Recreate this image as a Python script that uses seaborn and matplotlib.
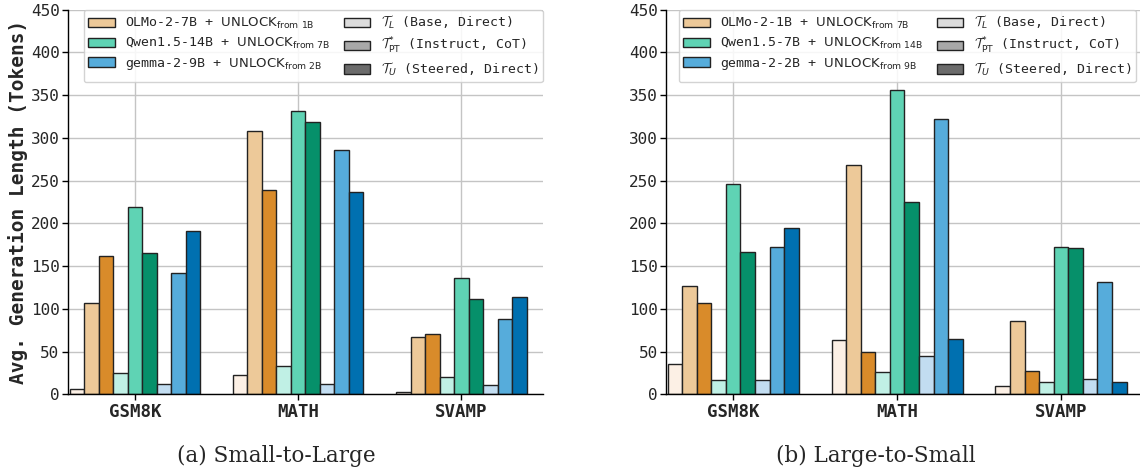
import numpy as np
import pandas as pd
import seaborn as sns
import matplotlib
matplotlib.use("Agg")
import matplotlib.pyplot as plt
from matplotlib.patches import Patch

# ---------------- data ----------------
datasets = ["GSM8K", "MATH", "SVAMP"]
bar_keys = ["OLMo_L", "OLMo_PT", "OLMo_U",
            "Qwen_L", "Qwen_PT", "Qwen_U",
            "gemma_L", "gemma_PT", "gemma_U"]

# (a) Small-to-Large : values per dataset in bar_keys order
left_gsm8k = [6.5, 106.5, 161.5, 24.5, 219.5, 165, 12.5, 141.5, 191]
left_math = [23, 308.5, 239, 33, 331, 318.5, 12.5, 285.5, 237]
left_svamp = [3, 66.5, 71, 20, 136.5, 112, 11.3, 88.5, 113.5]

# (b) Large-to-Small
right_gsm8k = [35.5, 126.5, 106.5, 16.5, 246, 167, 16.5, 172.5, 194]
right_math = [63.5, 268, 50, 25.5, 356, 225.5, 44.5, 322.5, 65]
right_svamp = [9.5, 85.5, 27, 14, 172.5, 171, 17.5, 131, 14.5]

left_models = ["OLMo-2-7B", "Qwen1.5-14B", "gemma-2-9B"]
left_from = ["1B", "7B", "2B"]
right_models = ["OLMo-2-1B", "Qwen1.5-7B", "gemma-2-2B"]
right_from = ["7B", "14B", "9B"]

setting_labels = [r"$\mathcal{T}_{L}$ (Base, Direct)",
                  r"$\mathcal{T}^{*}_{\mathrm{PT}}$ (Instruct, CoT)",
                  r"$\mathcal{T}_{U}$ (Steered, Direct)"]
captions = ["(a) Small-to-Large", "(b) Large-to-Small"]
ylabel = "Avg. Generation Length (Tokens)"

# ---------------- style ----------------
colors = ["#fcf0e5", "#edc999", "#d98b2a",
          "#c0f0e5", "#5fd3b4", "#06906a",
          "#c2ddf1", "#56acdb", "#0070b0"]
grays = ["#dcdcdc", "#a8a8a8", "#6b6b6b"]

sns.set_theme(style="whitegrid")
plt.rcParams["font.family"] = ["DejaVu Sans Mono", "DejaVu Sans"]
plt.rcParams["mathtext.fontset"] = "custom"
plt.rcParams["mathtext.rm"] = "DejaVu Sans"
plt.rcParams["mathtext.it"] = "DejaVu Sans:italic"
plt.rcParams["mathtext.cal"] = "cmsy10"

fig = plt.figure(figsize=(11.4, 4.69), dpi=100)
ax_l = fig.add_axes([0.0596, 0.1593, 0.4167, 0.8203])
ax_r = fig.add_axes([0.5842, 0.1593, 0.4184, 0.8203])


def make_df(g, m, s):
    rows = []
    for ds, vals in zip(datasets, [g, m, s]):
        for k, v in zip(bar_keys, vals):
            rows.append({"dataset": ds, "bar": k, "value": v})
    return pd.DataFrame(rows)


def draw(ax, df, models, froms, legend_anchor):
    sns.barplot(data=df, x="dataset", y="value", hue="bar",
                hue_order=bar_keys, order=datasets,
                palette=colors, width=0.8, dodge=True,
                edgecolor="#222222", linewidth=1.0, legend=False,
                errorbar=None, ax=ax, saturation=1)
    ax.set_ylim(0, 450)
    ax.set_yticks(np.arange(0, 451, 50))
    ax.set_xlim(-0.41, 2.5)
    ax.set_xticks(range(len(datasets)))
    ax.set_xticklabels(datasets, fontweight="bold", fontsize=12.5,
                       family="DejaVu Sans Mono")
    ax.set_xlabel("")
    ax.set_ylabel("")
    ax.grid(True, color="#c4c4c4", linewidth=1.0)
    ax.set_axisbelow(True)
    for side in ["top", "right"]:
        ax.spines[side].set_visible(False)
    for side in ["left", "bottom"]:
        ax.spines[side].set_color("black")
        ax.spines[side].set_linewidth(1.0)
    ax.tick_params(axis="y", labelsize=11.5, length=4, width=1, color="black",
                   left=True, pad=2)
    ax.tick_params(axis="x", length=4, width=1, color="black",
                   bottom=True, pad=2)

    handles = []
    labels = []
    for i, (mname, f) in enumerate(zip(models, froms)):
        handles.append(Patch(facecolor=colors[3 * i + 1], edgecolor="#222222", linewidth=1.0))
        labels.append(f"{mname} + " + r"$\mathrm{UNLOCK}_{\mathrm{from\ " + f + "}}$")
    for i in range(3):
        handles.append(Patch(facecolor=grays[i], edgecolor="#222222", linewidth=1.0))
        labels.append(setting_labels[i])
    ax.legend(handles, labels, ncol=2, loc="upper right",
              bbox_to_anchor=legend_anchor, borderaxespad=0.0,
              prop={"family": ["DejaVu Sans Mono", "DejaVu Sans"], "size": 9.5},
              frameon=True, framealpha=0.85, edgecolor="#cccccc",
              handlelength=2.0, handleheight=0.7, labelspacing=0.35,
              columnspacing=1.0, borderpad=0.35)


draw(ax_l, make_df(left_gsm8k, left_math, left_svamp), left_models, left_from, (1.0, 1.0))
draw(ax_r, make_df(right_gsm8k, right_math, right_svamp), right_models, right_from, (0.985, 1.0))

ax_l.set_ylabel(ylabel, fontsize=14, fontweight="bold", labelpad=2)

fig.text(276 / 1140, 0.028, captions[0], ha="center", va="center",
         fontsize=15.5, family="DejaVu Serif")
fig.text(876 / 1140, 0.028, captions[1], ha="center", va="center",
         fontsize=15.5, family="DejaVu Serif")

fig.savefig("out.png", dpi=100)
